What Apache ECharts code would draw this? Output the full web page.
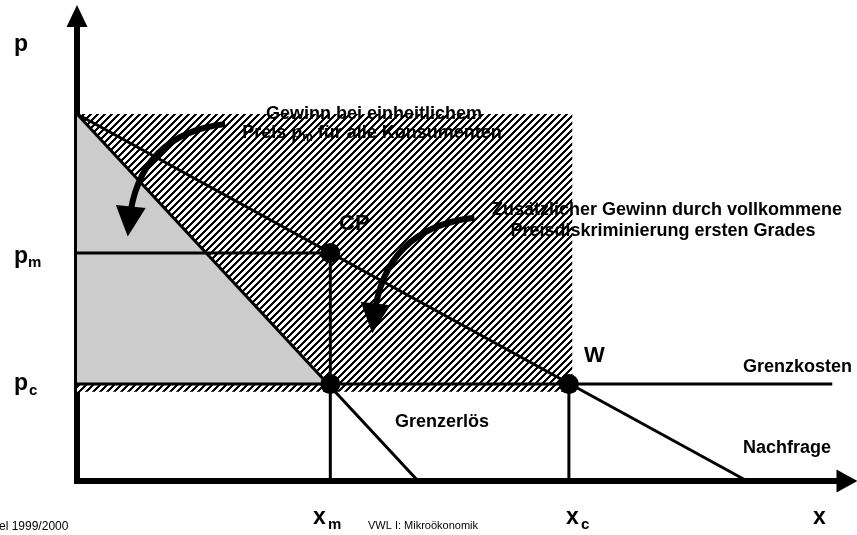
<!DOCTYPE html>
<html><head><meta charset="utf-8">
<script src="https://cdn.jsdelivr.net/npm/echarts@6/dist/echarts.min.js"></script>
<style>html,body{margin:0;padding:0;background:#fff}#c{width:857px;height:535px}</style>
</head><body><div id="c"></div>
<script>
// ---- data (price index p, quantity index x) ----
const demandCurve = [[0, 100], [100, 0]];            // Nachfrage
const marginalRevenue = [[0, 100], [50.9, 0]];        // Grenzerlös
const marginalCost = [[0, 26.4], [112.7, 26.4]];      // Grenzkosten
const dots = [[37.8, 62.1], [37.8, 26.4], [73.4, 26.4]]; // CP, cost at x_m, W
const pmGuide = [[0, 62.1], [37.8, 62.1]];
const xmGuide = [[37.8, 62.1], [37.8, 0]];
const xcGuide = [[73.4, 26.4], [73.4, 0]];
const hatchedArea = [[0, 24.3], [0, 100], [73.9, 100], [73.9, 24.3]];
const grayArea = [[0, 26.4], [0, 100], [37.8, 26.4]];
const arrowA = [[22.1, 97.3], [7.8, 70.7]];
const arrowB = [[59.3, 71.7], [44.3, 44.3]];
const xRange = [0, 114.9];
const yRange = [0, 126.7];

// crisp "/" hatch pattern tile
const tile = document.createElement('canvas');
tile.width = 7; tile.height = 7;
const g = tile.getContext('2d');
g.fillStyle = '#fff'; g.fillRect(0, 0, 7, 7);
g.fillStyle = '#000';
for (let i = 0; i < 7; i++) for (let j = 0; j < 7; j++) {
  if ((i + j) % 7 < 3) g.fillRect(i, j, 1, 1);
}
const hatch = { image: tile, repeat: 'repeat' };

const FONT = '"Liberation Sans", Arial, sans-serif';
function txt(x, y, text, size, opts) {
  return { type: 'text', x: x, y: y, z: 100, silent: true,
    style: Object.assign({ text: text, fontFamily: FONT, fontWeight: 'bold', fontSize: size,
      fill: '#000', align: 'left', verticalAlign: 'middle' }, opts || {}) };
}
function poly(points, fill, z) {
  return { type: 'custom', coordinateSystem: 'cartesian2d', silent: true, data: [0], z: z,
    renderItem: function (params, api) {
      return { type: 'polygon', shape: { points: points.map(function (p) { return api.coord(p); }) },
        style: { fill: fill, stroke: null } };
    } };
}
function seg(data) {
  return { type: 'line', data: data, symbol: 'none', silent: true, z: 3,
    lineStyle: { color: '#000', width: 3 } };
}

const chart = echarts.init(document.getElementById('c'), null, { renderer: 'canvas' });
chart.setOption({
  animation: false,
  backgroundColor: '#fff',
  grid: { left: 77, right: 10, top: 16, bottom: 54, containLabel: false, outerBoundsMode: 'none' },
  xAxis: { type: 'value', min: xRange[0], max: xRange[1],
    axisLine: { show: true, symbol: ['none', 'triangle'], symbolSize: [23, 21],
      lineStyle: { color: '#000', width: 6, cap: 'square' } },
    axisTick: { show: false }, axisLabel: { show: false }, splitLine: { show: false } },
  yAxis: { type: 'value', min: yRange[0], max: yRange[1],
    axisLine: { show: true, symbol: ['none', 'triangle'], symbolSize: [21, 22],
      lineStyle: { color: '#000', width: 6, cap: 'square' } },
    axisTick: { show: false }, axisLabel: { show: false }, splitLine: { show: false } },
  series: [
    poly(hatchedArea, hatch, 1),
    poly(grayArea, '#cccccc', 2),
    seg(demandCurve), seg(marginalRevenue), seg(marginalCost),
    seg(pmGuide), seg(xmGuide), seg(xcGuide),
    { type: 'scatter', data: dots, symbol: 'circle', symbolSize: 20, silent: true, z: 10,
      itemStyle: { color: '#000', opacity: 1, borderWidth: 0 } },
    { type: 'lines', coordinateSystem: 'cartesian2d', silent: true, z: 11,
      symbol: ['none', 'triangle'], symbolSize: 30,
      lineStyle: { color: '#000', width: 6, curveness: -0.4, opacity: 1 },
      data: [{ coords: arrowA }, { coords: arrowB }] }
  ],
  graphic: [
    txt(14, 45, 'p', 23),
    txt(14, 257, 'p', 23), txt(28, 263, 'm', 15),
    txt(14, 384, 'p', 23), txt(29, 391, 'c', 15),
    txt(313, 518, 'x', 23), txt(328, 525, 'm', 15),
    txt(566, 518, 'x', 23), txt(581, 525, 'c', 15),
    txt(813, 518, 'x', 23),
    txt(339, 224, 'CP', 22),
    txt(584, 356, 'W', 22),
    txt(743, 367, 'Grenzkosten', 18),
    txt(743, 448, 'Nachfrage', 18),
    txt(395, 422, 'Grenzerlös', 18),
    txt(374, 114, 'Gewinn bei einheitlichem', 18, { align: 'center' }),
    txt(372, 133, '{a|Preis p}{s|m}{a| für alle Konsumenten}', 18, { align: 'center',
      rich: { a: { fontFamily: FONT, fontWeight: 'bold', fontSize: 18, lineHeight: 22 },
              s: { fontFamily: FONT, fontWeight: 'bold', fontSize: 12, lineHeight: 12, verticalAlign: 'bottom' } } }),
    txt(667, 210, 'Zusätzlicher Gewinn durch vollkommene', 18, { align: 'center' }),
    txt(663, 231, 'Preisdiskriminierung ersten Grades', 18, { align: 'center' }),
    txt(368, 526, 'VWL I: Mikroökonomik', 11, { fontWeight: 'normal' }),
    txt(-1, 527, 'el 1999/2000', 12, { fontWeight: 'normal' })
  ]
});
</script></body></html>
